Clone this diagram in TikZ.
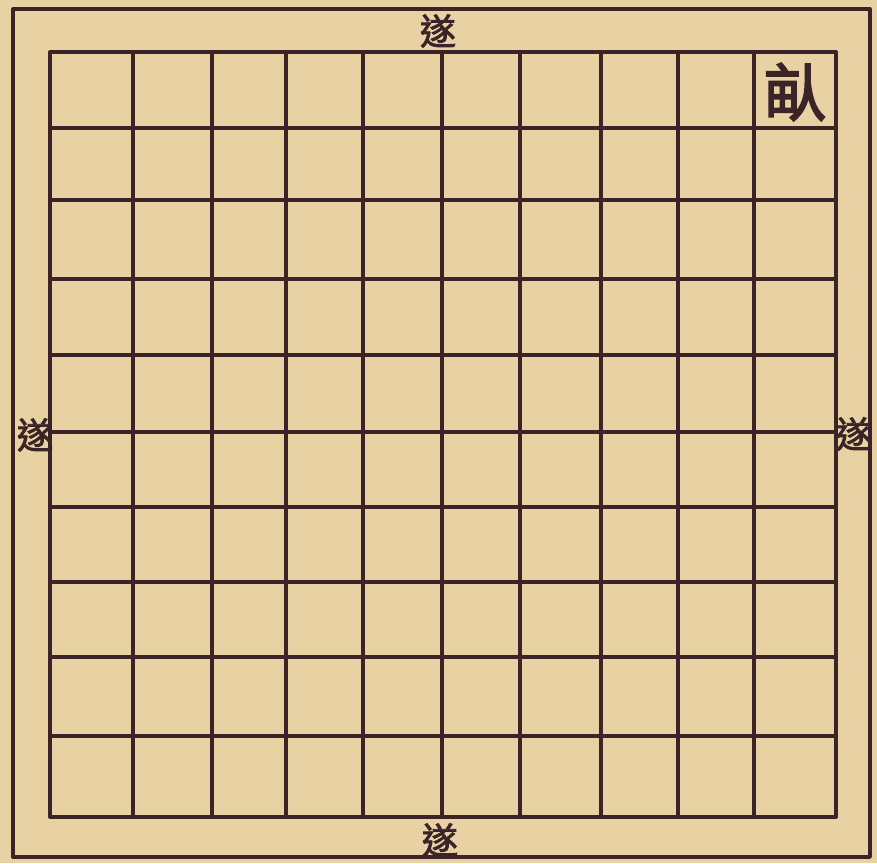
\documentclass[tikz,border=0pt]{standalone}
\usepackage{fontspec}
\newfontfamily\cjk[FakeBold=2.5]{Noto Sans CJK TC}
\definecolor{paper}{HTML}{E8D2A4}
\definecolor{ink}{HTML}{3A2427}
\begin{document}
\begin{tikzpicture}[x=1pt,y=-1pt,
  inkline/.style={draw=ink,line width=3.3pt,line cap=round,line join=round},
  edgelbl/.style={font=\cjk\fontsize{36}{36}\selectfont,text=ink,inner sep=0pt},
  celllbl/.style={font=\cjk\fontsize{62}{62}\selectfont,text=ink,inner sep=0pt}]
\fill[paper] (0,0) rectangle (877,863);
\useasboundingbox (0,0) rectangle (877,863);
% outer frame
\draw[inkline] (13,9) rectangle (870,857);
% grid
\foreach \x in {50,133,212,286,363,442,520,601,678,754,836}
  \draw[inkline] (\x,52) -- (\x,817);
\foreach \y in {52,128,200,279,355,432,507,582,657,736,817}
  \draw[inkline] (50,\y) -- (836,\y);
% labels
\node[celllbl] (mu) at (795,92) {畒};
\node[edgelbl] (top) at (438,31) {遂};
\node[edgelbl] (left) at (35,435) {遂};
\node[edgelbl] (right) at (854,434) {遂};
\node[edgelbl] (bottom) at (440,840) {遂};
\end{tikzpicture}
\end{document}
